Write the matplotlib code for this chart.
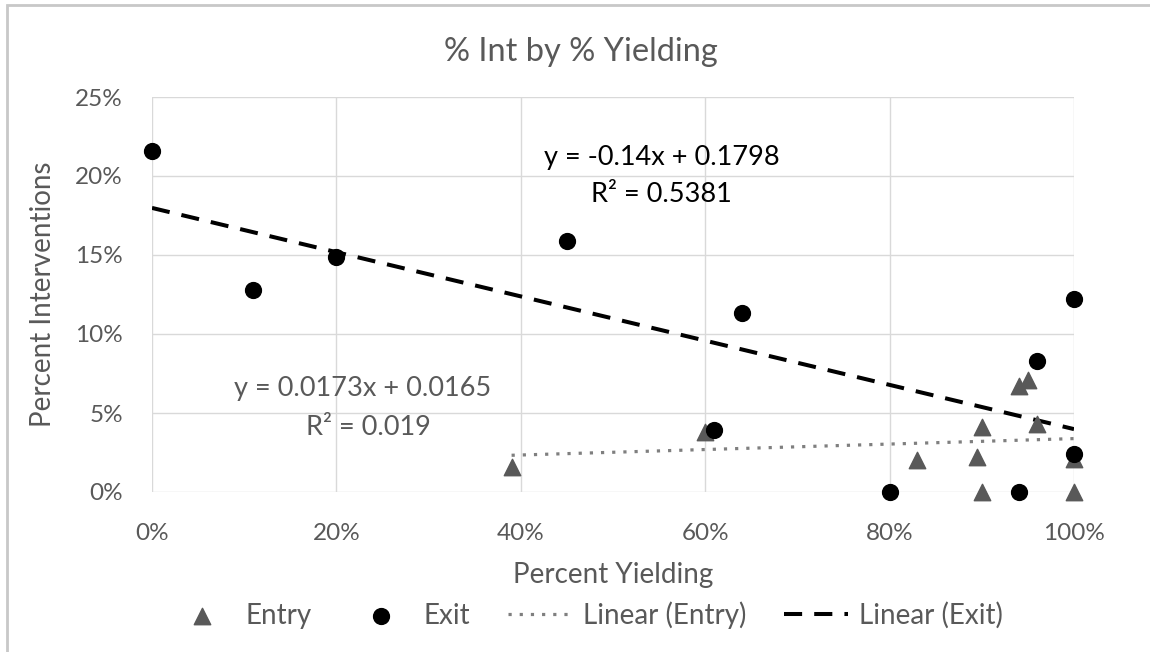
import numpy as np
import matplotlib
matplotlib.use("Agg")
import matplotlib.pyplot as plt
from matplotlib.ticker import PercentFormatter
from matplotlib.patches import Rectangle

plt.rcParams["font.family"] = ["Lato", "DejaVu Sans"]

# Data (fractions)
entry_x = [0.39, 0.60, 0.83, 0.895, 0.90, 0.90, 0.94, 0.95, 0.96, 1.00, 1.00]
entry_y = [0.016, 0.038, 0.020, 0.022, 0.041, 0.0, 0.067, 0.071, 0.043, 0.021, 0.0]
exit_x = [0.0, 0.11, 0.20, 0.45, 0.61, 0.64, 0.80, 0.94, 0.96, 1.00, 1.00]
exit_y = [0.216, 0.128, 0.149, 0.159, 0.0395, 0.113, 0.0, 0.0, 0.083, 0.122, 0.024]

# Trendline coefficients as shown on the chart
entry_fit = (0.0173, 0.0165)
exit_fit = (-0.14, 0.1798)

text_grey = "#595959"

fig = plt.figure(figsize=(11.5, 6.52), dpi=100)
ax = fig.add_axes([152 / 1150, 1 - 492 / 652, 922 / 1150, 395 / 652])

# Chart border
fig.patches.append(Rectangle((7 / 1150, -0.1), 1.2, 1 - 5 / 652 + 0.1,
                             transform=fig.transFigure, fill=False,
                             edgecolor="#c8c8c8", linewidth=2))

ax.scatter(entry_x, entry_y, marker="^", s=140, color="#595959", zorder=3,
           clip_on=False, label="Entry")
ax.scatter(exit_x, exit_y, marker="o", s=130, color="black", zorder=3,
           clip_on=False, label="Exit")

xe = np.array([min(entry_x), max(entry_x)])
ax.plot(xe, entry_fit[0] * xe + entry_fit[1], linestyle=(0, (1, 2.5)), color="#7f7f7f",
        linewidth=2.3, zorder=2, label="Linear (Entry)")
xx = np.array([min(exit_x), max(exit_x)])
ax.plot(xx, exit_fit[0] * xx + exit_fit[1], linestyle=(0, (4.5, 3)), color="black",
        linewidth=2.9, zorder=2, label="Linear (Exit)")

# Equation labels
ax.text(0.553, 0.212, "y = -0.14x + 0.1798", ha="center", va="center", fontsize=19.5, color="black")
ax.text(0.553, 0.188, "R² = 0.5381", ha="center", va="center", fontsize=19.5, color="black")
ax.text(0.228, 0.0658, "y = 0.0173x + 0.0165", ha="center", va="center", fontsize=19.5, color=text_grey)
ax.text(0.235, 0.0411, "R² = 0.019", ha="center", va="center", fontsize=19.5, color=text_grey)

ax.set_xlim(0, 1)
ax.set_ylim(0, 0.25)
ax.set_xticks(np.arange(0, 1.01, 0.2))
ax.set_yticks(np.arange(0, 0.251, 0.05))
ax.xaxis.set_major_formatter(PercentFormatter(1.0, decimals=0))
ax.yaxis.set_major_formatter(PercentFormatter(1.0, decimals=0))
ax.tick_params(length=0, labelsize=17.5, labelcolor=text_grey)
ax.tick_params(axis="y", pad=21)
ax.tick_params(axis="x", pad=22)
ax.grid(True, color="#d9d9d9", linewidth=1)
ax.set_axisbelow(True)
for s in ax.spines.values():
    s.set_visible(False)

ax.text(0.465, 1.114, "% Int by % Yielding", transform=ax.transAxes, ha="center",
        va="center", fontsize=23.5, color=text_grey)
ax.set_xlabel("Percent Yielding", fontsize=20, color=text_grey, va="center")
ax.set_ylabel("Percent Interventions", fontsize=20, color=text_grey, va="center")
ax.xaxis.set_label_coords(0.5, -0.21)
ax.yaxis.set_label_coords(-0.118, 0.5)

leg = ax.legend(loc="center", bbox_to_anchor=(0.471, -0.311), ncol=4, frameon=False,
                fontsize=20, handlelength=2.3, columnspacing=1.35, handletextpad=0.4)
for t in leg.get_texts():
    t.set_color(text_grey)

fig.savefig("out.png", dpi=100)
